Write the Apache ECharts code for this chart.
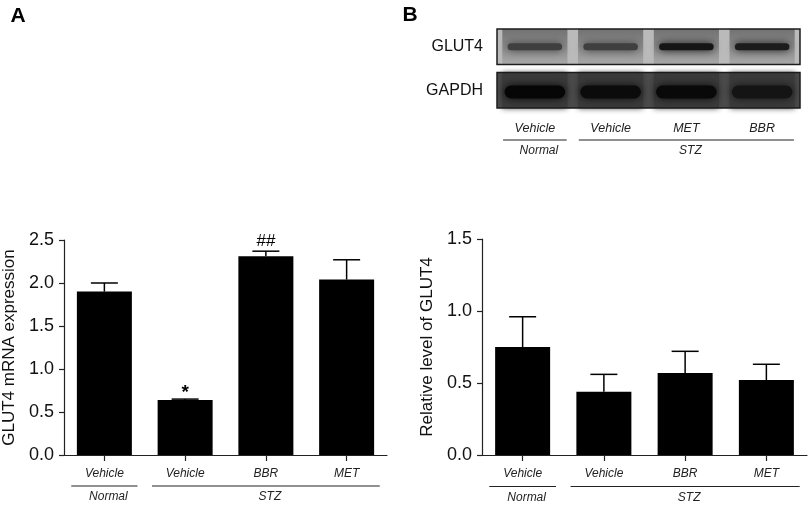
<!DOCTYPE html>
<html>
<head>
<meta charset="utf-8">
<script src="https://cdn.jsdelivr.net/npm/echarts@6/dist/echarts.min.js"></script>
<style>
  html, body { margin: 0; padding: 0; background: #fff; }
  #chart { width: 810px; height: 506px; }
</style>
</head>
<body>
<div id="chart"></div>
<script>
// bar groups (panels A and lower B)
const groups = ['Vehicle', 'Vehicle', 'BBR', 'MET']
const groupOf = ['Normal', 'STZ', 'STZ', 'STZ']
const mrnaMean = [1.90, 0.64, 2.31, 2.04]
const mrnaSem = [0.10, 0.01, 0.06, 0.23]
const mrnaMarks = ['', '*', '##', '']
const proteinMean = [0.75, 0.44, 0.57, 0.52]
const proteinSem = [0.21, 0.12, 0.15, 0.11]
const mrnaTicks = [0, 0.5, 1.0, 1.5, 2.0, 2.5]
const proteinTicks = [0, 0.5, 1.0, 1.5]

// western blot (upper B), band darkness 0..1
const blotLanes = ['Vehicle', 'Vehicle', 'MET', 'BBR']
const blotLaneGroup = ['Normal', 'STZ', 'STZ', 'STZ']
const blotRows = ['GLUT4', 'GAPDH']
const glut4Band = [0.55, 0.55, 0.85, 0.8]
const gapdhBand = [0.95, 0.9, 0.92, 0.82]

const FONT = '"Liberation Sans", Arial, sans-serif'
const INK = '#111'

const chart = echarts.init(document.getElementById('chart'), null, { renderer: 'canvas' })

const valueAxis = (gridIndex, ticks, name) => ({
  type: 'value',
  gridIndex,
  min: ticks[0],
  max: ticks[ticks.length - 1],
  interval: ticks[1] - ticks[0],
  name,
  nameLocation: 'middle',
  nameGap: 46,
  nameTextStyle: { color: INK, fontSize: 17, fontFamily: FONT },
  axisLine: { show: true, lineStyle: { color: '#222', width: 1.2 } },
  axisTick: { show: true, length: 5, lineStyle: { color: '#222', width: 1.2 } },
  axisLabel: {
    color: INK, fontSize: 18, fontFamily: FONT, margin: 10,
    formatter: (v) => Number(v).toFixed(1),
  },
  splitLine: { show: false },
})

const categoryAxis = (gridIndex, data) => ({
  type: 'category',
  gridIndex,
  data,
  axisLine: { show: true, lineStyle: { color: '#222', width: 1.2 } },
  axisTick: { show: true, alignWithLabel: true, interval: 0, length: 6, lineStyle: { color: '#222', width: 1.2 } },
  axisLabel: { color: '#222', fontSize: 12, fontStyle: 'italic', fontFamily: FONT, margin: 13, interval: 0 },
})

const errorSeries = (axisIndex, mean, sem, marks) => ({
  type: 'custom',
  xAxisIndex: axisIndex,
  yAxisIndex: axisIndex,
  z: 3,
  data: mean.map((m, i) => [i, m, sem[i]]),
  encode: { x: 0, y: 1 },
  renderItem: (params, api) => {
    const i = api.value(0)
    const m = api.value(1)
    const s = api.value(2)
    const base = api.coord([i, m])
    const top = api.coord([i, m + s])
    const half = 13.5
    const style = { stroke: '#000', lineWidth: 1.5 }
    const children = [
      { type: 'line', shape: { x1: base[0], y1: base[1], x2: top[0], y2: top[1] }, style },
      { type: 'line', shape: { x1: top[0] - half, y1: top[1], x2: top[0] + half, y2: top[1] }, style },
    ]
    const mark = marks ? marks[params.dataIndex] : ''
    if (mark) {
      children.push({
        type: 'text',
        style: {
          text: mark, x: top[0], y: mark === '*' ? top[1] + 3 : top[1] - 1,
          textAlign: 'center', textVerticalAlign: 'bottom',
          font: (mark === '*' ? 'bold 19px ' : '17px ') + FONT, fill: '#000',
        },
      })
    }
    return { type: 'group', children }
  },
})

// blot helpers
const rowBox = (api, row) => {
  const c = api.coord([0, row])
  const h = api.size([0, 1])[1]
  return { y: c[1] - h / 2 + 4, h: h - 8 }
}

const gray = (v) => {
  const g = Math.round(v)
  return `rgb(${g},${g},${g})`
}

const option = {
  animation: false,
  grid: [
    { left: 64, top: 240, width: 323, height: 215 },
    { left: 482, top: 239, width: 325, height: 216 },
    { left: 497, top: 25, width: 303, height: 87 },
  ],
  xAxis: [
    categoryAxis(0, groups),
    categoryAxis(1, groups),
    {
      type: 'category',
      gridIndex: 2,
      data: blotLanes,
      axisLine: { show: false },
      axisTick: { show: false },
      axisLabel: { color: '#222', fontSize: 12.5, fontStyle: 'italic', fontFamily: FONT, margin: 10, interval: 0 },
    },
  ],
  yAxis: [
    valueAxis(0, mrnaTicks, 'GLUT4 mRNA expression'),
    valueAxis(1, proteinTicks, 'Relative level of GLUT4'),
    {
      type: 'category',
      gridIndex: 2,
      data: blotRows,
      inverse: true,
      axisLine: { show: false },
      axisTick: { show: false },
      axisLabel: { color: INK, fontSize: 16, fontFamily: FONT, margin: 14, padding: [0, 0, 5, 0] },
    },
  ],
  series: [
    {
      type: 'bar',
      xAxisIndex: 0,
      yAxisIndex: 0,
      data: mrnaMean,
      barWidth: 55,
      itemStyle: { color: '#000' },
    },
    errorSeries(0, mrnaMean, mrnaSem, mrnaMarks),
    {
      type: 'bar',
      xAxisIndex: 1,
      yAxisIndex: 1,
      data: proteinMean,
      barWidth: 55,
      itemStyle: { color: '#000' },
    },
    errorSeries(1, proteinMean, proteinSem, null),
    // blot strip background
    {
      type: 'custom',
      xAxisIndex: 2,
      yAxisIndex: 2,
      z: 1,
      data: blotRows.map((r, j) => [0, j]),
      encode: { x: 0, y: 1 },
      renderItem: (params, api) => {
        const j = api.value(1)
        const b = rowBox(api, j)
        const cs = params.coordSys
        return {
          type: 'rect',
          shape: { x: cs.x, y: b.y, width: cs.width, height: b.h },
          style: { fill: j === 0 ? '#bababa' : '#4a4a4a' },
        }
      },
    },
    // lanes and bands
    {
      type: 'custom',
      xAxisIndex: 2,
      yAxisIndex: 2,
      z: 2,
      data: [
        ...glut4Band.map((v, i) => [i, 0, v]),
        ...gapdhBand.map((v, i) => [i, 1, v]),
      ],
      encode: { x: 0, y: 1 },
      renderItem: (params, api) => {
        const i = api.value(0)
        const j = api.value(1)
        const v = api.value(2)
        const b = rowBox(api, j)
        const cx = api.coord([i, j])[0]
        const bw = api.size([1, 0])[0]
        const laneW = bw * 0.86
        const lane = {
          type: 'rect',
          shape: { x: cx - laneW / 2, y: b.y, width: laneW, height: b.h },
          style: j === 0
            ? {
                fill: new echarts.graphic.LinearGradient(0, 0, 0, 1, [
                  { offset: 0, color: '#727272' },
                  { offset: 0.45, color: '#888888' },
                  { offset: 1, color: '#a8a8a8' },
                ]),
                shadowBlur: 6,
                shadowColor: '#8a8a8a',
              }
            : { fill: '#3a3a3a', shadowBlur: 6, shadowColor: '#3a3a3a' },
        }
        const bandH = j === 0 ? 7 : 13
        const bandW = bw * (j === 0 ? 0.72 : 0.8)
        const bandY = b.y + b.h * (j === 0 ? 0.5 : 0.55) - bandH / 2
        const col = gray((j === 0 ? 140 : 110) * (1 - v))
        const band = {
          type: 'rect',
          shape: { x: cx - bandW / 2, y: bandY, width: bandW, height: bandH, r: bandH / 2 },
          style: { fill: col, shadowBlur: 9, shadowColor: col },
        }
        return { type: 'group', children: [lane, band] }
      },
    },
    // strip frame
    {
      type: 'custom',
      xAxisIndex: 2,
      yAxisIndex: 2,
      z: 4,
      data: blotRows.map((r, j) => [0, j]),
      encode: { x: 0, y: 1 },
      renderItem: (params, api) => {
        const j = api.value(1)
        const b = rowBox(api, j)
        const cs = params.coordSys
        return {
          type: 'rect',
          shape: { x: cs.x, y: b.y, width: cs.width, height: b.h },
          style: { fill: 'none', stroke: '#1c1c1c', lineWidth: 1.5 },
        }
      },
    },
  ],
}

chart.setOption(option)

// group brackets under the category labels
const groupGraphics = (axisIndex, groupNames, lineY, textY, reach) => {
  const n = groupNames.length
  const centers = groupNames.map((g, i) => chart.convertToPixel({ xAxisIndex: axisIndex }, i))
  const band = centers[1] - centers[0]
  const out = []
  let start = 0
  for (let i = 1; i <= n; i += 1) {
    if (i === n || groupNames[i] !== groupNames[start]) {
      const x1 = centers[start] - band * reach
      const x2 = centers[i - 1] + band * reach
      out.push({
        type: 'line',
        shape: { x1, y1: lineY, x2, y2: lineY },
        style: { stroke: '#222', lineWidth: 1.2 },
      })
      out.push({
        type: 'text',
        style: {
          text: groupNames[start], x: (x1 + x2) / 2 + 4, y: textY,
          textAlign: 'center', textVerticalAlign: 'middle',
          font: 'italic 12px ' + FONT, fill: '#222',
        },
      })
      start = i
    }
  }
  return out
}

chart.setOption({
  graphic: [
    {
      type: 'text',
      style: { text: 'A', x: 18, y: 16, textAlign: 'center', textVerticalAlign: 'middle', font: 'bold 21px ' + FONT, fill: '#000' },
    },
    {
      type: 'text',
      style: { text: 'B', x: 410, y: 15, textAlign: 'center', textVerticalAlign: 'middle', font: 'bold 21px ' + FONT, fill: '#000' },
    },
    ...groupGraphics(0, groupOf, 486, 497, 0.41),
    ...groupGraphics(1, groupOf, 486.5, 498, 0.41),
    ...groupGraphics(2, blotLaneGroup, 140, 151, 0.42),
  ],
})
</script>
</body>
</html>
